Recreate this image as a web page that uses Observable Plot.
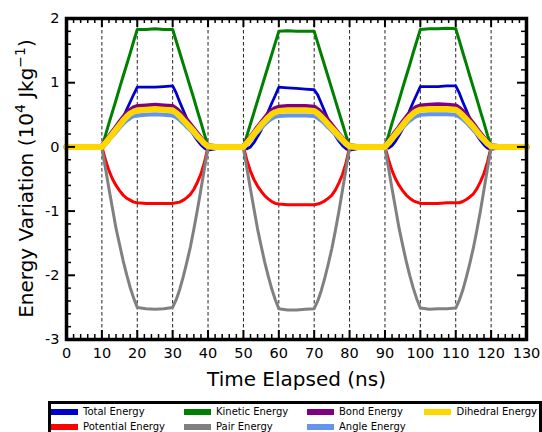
<!DOCTYPE html>
<html>
<head>
<meta charset="utf-8">
<script src="https://cdn.jsdelivr.net/npm/d3@7"></script>
<script src="https://cdn.jsdelivr.net/npm/@observablehq/plot@0.6"></script>
<style>
  body { margin: 0; background: #fff; font-family: "DejaVu Sans", sans-serif; }
  #wrap { position: relative; width: 542px; height: 432px; overflow: hidden; background: #fff; }
  #legend { position: absolute; left: 48px; top: 401px; width: 494px; height: 40px;
            border: 3px solid #000; box-sizing: border-box; background: #fff; }
  .sw { position: absolute; width: 27px; height: 6px; }
  .lab { position: absolute; font-size: 10px; line-height: 10px; white-space: nowrap; color: #000; }
</style>
</head>
<body>
<div id="wrap"></div>
<script>
// Sample times (ns): three load / hold / unload cycles
const timeNs = [0,
  10,11,12,13,14,15,16,17,18,19,20,22.5,25,27.5,30,31,32,33,34,35,36,37,38,39,40,
  42,45,48,
  50,51,52,53,54,55,56,57,58,59,60,62.5,65,67.5,70,71,72,73,74,75,76,77,78,79,80,
  82,85,88,
  90,91,92,93,94,95,96,97,98,99,100,102.5,105,107.5,110,111,112,113,114,115,116,117,118,119,120,
  122,125,130];

// Energy variation (10^4 J/kg) per component, aligned with timeNs
const totalEnergy = [0,
  0,0.05,0.10,0.18,0.26,0.34,0.45,0.58,0.70,0.82,0.93, 0.93,0.93,0.94, 0.95,0.84,0.70,0.57,0.44,0.28,0.18,0.10,0.03,-0.02,-0.05,
  -0.03,0,0,
  0,-0.03,0.00,0.07,0.16,0.26,0.40,0.55,0.68,0.80,0.93, 0.92,0.91,0.90, 0.89,0.81,0.68,0.55,0.42,0.28,0.17,0.09,0.02,-0.03,-0.05,
  -0.03,0,0,
  0,-0.02,0.02,0.09,0.18,0.28,0.42,0.57,0.70,0.82,0.94, 0.94,0.94,0.95, 0.95,0.84,0.70,0.57,0.44,0.29,0.18,0.10,0.03,-0.02,-0.04,
  -0.02,0,0];

const potentialEnergy = [0,
  0,-0.20,-0.37,-0.50,-0.60,-0.68,-0.75,-0.80,-0.83,-0.86,-0.87, -0.88,-0.88,-0.88, -0.88,-0.87,-0.86,-0.83,-0.79,-0.74,-0.66,-0.55,-0.42,-0.24,0,
  0,0,0,
  0,-0.21,-0.38,-0.51,-0.61,-0.69,-0.76,-0.81,-0.85,-0.88,-0.89, -0.90,-0.90,-0.90, -0.90,-0.89,-0.87,-0.84,-0.80,-0.75,-0.67,-0.56,-0.43,-0.25,0,
  0,0,0,
  0,-0.20,-0.37,-0.50,-0.60,-0.68,-0.75,-0.80,-0.84,-0.86,-0.88, -0.88,-0.88,-0.87, -0.87,-0.87,-0.85,-0.82,-0.78,-0.73,-0.65,-0.54,-0.41,-0.23,0,
  0,0,0];

const kineticEnergy = [0,
  0,0.18,0.37,0.55,0.73,0.92,1.10,1.28,1.46,1.65,1.83, 1.83,1.84,1.83, 1.83,1.65,1.47,1.29,1.11,0.93,0.75,0.56,0.38,0.19,0.01,
  0,0,0,
  0,0.18,0.36,0.54,0.72,0.90,1.08,1.26,1.44,1.62,1.80, 1.81,1.80,1.80, 1.80,1.62,1.44,1.26,1.08,0.90,0.72,0.54,0.36,0.18,0.01,
  0,0,0,
  0,0.18,0.37,0.55,0.73,0.92,1.10,1.28,1.47,1.65,1.83, 1.84,1.84,1.85, 1.84,1.66,1.47,1.29,1.10,0.92,0.74,0.55,0.37,0.18,0.01,
  0,0,0];

const pairEnergy = [-0.02,
  -0.02,-0.33,-0.65,-0.96,-1.27,-1.52,-1.77,-1.99,-2.19,-2.36,-2.50, -2.52,-2.53,-2.52, -2.50,-2.38,-2.22,-2.02,-1.80,-1.56,-1.28,-0.98,-0.66,-0.33,-0.02,
  -0.02,-0.02,-0.02,
  -0.02,-0.34,-0.66,-0.97,-1.28,-1.54,-1.79,-2.01,-2.21,-2.38,-2.52, -2.54,-2.54,-2.53, -2.52,-2.40,-2.24,-2.04,-1.82,-1.58,-1.30,-1.00,-0.67,-0.34,-0.02,
  -0.02,-0.02,-0.02,
  -0.02,-0.33,-0.65,-0.96,-1.27,-1.53,-1.78,-2.00,-2.20,-2.37,-2.51, -2.53,-2.52,-2.52, -2.51,-2.39,-2.23,-2.03,-1.81,-1.57,-1.29,-0.99,-0.66,-0.33,-0.02,
  -0.02,-0.02,-0.02];

const bondEnergy = [0,
  0,0.07,0.14,0.22,0.29,0.37,0.44,0.51,0.56,0.60,0.62, 0.63,0.64,0.63, 0.62,0.58,0.53,0.47,0.40,0.33,0.26,0.19,0.12,0.06,0.01,
  0,0,0,
  0,0.07,0.14,0.21,0.29,0.36,0.43,0.50,0.55,0.59,0.61, 0.62,0.62,0.62, 0.61,0.57,0.52,0.46,0.39,0.32,0.25,0.18,0.12,0.06,0.01,
  0,0,0,
  0,0.07,0.14,0.22,0.29,0.37,0.44,0.51,0.57,0.61,0.63, 0.64,0.65,0.64, 0.63,0.59,0.54,0.48,0.41,0.34,0.26,0.19,0.12,0.06,0.01,
  0,0,0];

const angleEnergy = [-0.01,
  -0.01,0.05,0.11,0.17,0.23,0.30,0.36,0.41,0.45,0.48,0.49, 0.50,0.51,0.50, 0.49,0.46,0.42,0.37,0.31,0.26,0.20,0.14,0.09,0.04,0.00,
  -0.01,-0.01,-0.01,
  -0.01,0.05,0.11,0.17,0.23,0.29,0.35,0.40,0.44,0.47,0.48, 0.49,0.49,0.49, 0.48,0.45,0.41,0.36,0.30,0.25,0.19,0.13,0.08,0.03,-0.01,
  -0.01,-0.01,-0.01,
  -0.01,0.05,0.11,0.17,0.23,0.30,0.36,0.41,0.45,0.48,0.50, 0.51,0.51,0.51, 0.50,0.47,0.43,0.38,0.32,0.26,0.20,0.14,0.09,0.04,0.00,
  -0.01,-0.01,-0.01];

const dihedralEnergy = [0,
  0,0.06,0.13,0.20,0.27,0.34,0.41,0.47,0.52,0.55,0.57, 0.58,0.59,0.58, 0.57,0.53,0.48,0.42,0.36,0.30,0.24,0.17,0.11,0.05,0.01,
  0,0,0,
  0,0.06,0.13,0.20,0.27,0.34,0.40,0.46,0.51,0.54,0.56, 0.57,0.57,0.57, 0.56,0.52,0.47,0.41,0.35,0.29,0.23,0.17,0.11,0.05,0.01,
  0,0,0,
  0,0.06,0.13,0.20,0.27,0.34,0.41,0.47,0.52,0.56,0.58, 0.59,0.59,0.59, 0.58,0.54,0.49,0.43,0.37,0.31,0.24,0.17,0.11,0.05,0.01,
  0,0,0];

const seriesNames = ["Total Energy", "Potential Energy", "Kinetic Energy", "Pair Energy",
                     "Bond Energy", "Angle Energy", "Dihedral Energy"];
const seriesColors = ["#0000cd", "#ff0000", "#008000", "#808080", "#800080", "#6495ed", "#ffd700"];
const seriesValues = [totalEnergy, potentialEnergy, kineticEnergy, pairEnergy,
                      bondEnergy, angleEnergy, dihedralEnergy];

// Axis ticks and the stage boundaries marked with dashed lines
const xMajor = [0,10,20,30,40,50,60,70,80,90,100,110,120,130];
const xMinor = d3.range(0, 131, 2).filter(t => t % 10 !== 0);
const yMajor = [-3,-2,-1,0,1,2];
const yMinor = d3.range(-30, 21, 2).filter(v => v % 10 !== 0).map(v => v / 10);
const stageBounds = [10,20,30,40,50,60,70,80,90,100,110,120];

// Line widths per series (noisy traces read as thick bands)
const widths = [2.8, 3, 3, 3, 6, 4, 6];

const W = 542, H = 395;
const mL = 66, mR = 16, mT = 18, mB = 56;
const plotW = W - mL - mR, plotH = H - mT - mB;

const rows = seriesNames.map((name, s) =>
  timeNs.map((t, i) => ({t, v: seriesValues[s][i], name})));

const lineMarks = rows.map((data, s) =>
  Plot.line(data, {x: "t", y: "v", stroke: seriesColors[s], strokeWidth: widths[s],
                   strokeLinejoin: "round", strokeLinecap: "round"}));

const majLen = 9, minLen = 5;
const fmt = d => String(d);

const svg = Plot.plot({
  width: W, height: H,
  marginLeft: mL, marginRight: mR, marginTop: mT, marginBottom: mB,
  x: {domain: [0, 130]},
  y: {domain: [-3, 2]},
  style: {fontFamily: "DejaVu Sans", fontSize: "14.5px", color: "#000", background: "#fff"},
  marks: [
    Plot.ruleX(stageBounds, {x: d => d, stroke: "#222", strokeWidth: 1, strokeDasharray: "3.5,2.5"}),
    ...lineMarks,
    // inward ticks on all four sides
    Plot.tickX(xMajor, {x: d => d, insetTop: plotH - majLen, stroke: "#000", strokeWidth: 2}),
    Plot.tickX(xMajor, {x: d => d, insetBottom: plotH - majLen, stroke: "#000", strokeWidth: 2}),
    Plot.tickX(xMinor, {x: d => d, insetTop: plotH - minLen, stroke: "#000", strokeWidth: 1.5}),
    Plot.tickX(xMinor, {x: d => d, insetBottom: plotH - minLen, stroke: "#000", strokeWidth: 1.5}),
    Plot.tickY(yMajor, {y: d => d, insetRight: plotW - majLen, stroke: "#000", strokeWidth: 2}),
    Plot.tickY(yMajor, {y: d => d, insetLeft: plotW - majLen, stroke: "#000", strokeWidth: 2}),
    Plot.tickY(yMinor, {y: d => d, insetRight: plotW - minLen, stroke: "#000", strokeWidth: 1.5}),
    Plot.tickY(yMinor, {y: d => d, insetLeft: plotW - minLen, stroke: "#000", strokeWidth: 1.5}),
    Plot.frame({stroke: "#000", strokeWidth: 3.5}),
    Plot.axisX({ticks: xMajor, tickSize: 0, tickPadding: 8, label: null, tickFormat: fmt, fontSize: 14.5}),
    Plot.axisY({ticks: yMajor, tickSize: 0, tickPadding: 7, label: null, tickFormat: fmt, fontSize: 14.5}),
    Plot.text(["Time Elapsed (ns)"], {text: d => d, frameAnchor: "bottom", dy: 46,
                                      lineAnchor: "bottom", fontSize: 20, fill: "#000"})
  ]
});

// Rotated y-axis title with superscripts
const yt = d3.select(svg).append("text")
  .attr("transform", `translate(33,${mT + plotH / 2}) rotate(-90)`)
  .attr("text-anchor", "middle")
  .attr("font-family", "DejaVu Sans")
  .attr("font-size", 20)
  .attr("fill", "#000");
yt.append("tspan").text("Energy Variation (10");
yt.append("tspan").attr("font-size", 14).attr("dy", -8).text("4");
yt.append("tspan").attr("dy", 8).text(" Jkg");
yt.append("tspan").attr("font-size", 14).attr("dy", -8).text("\u22121");
yt.append("tspan").attr("dy", 8).text(")");

const wrap = document.getElementById("wrap");
wrap.appendChild(svg);

// Legend: four columns, filled column by column
const legend = document.createElement("div");
legend.id = "legend";
const colSwatch = [0, 133, 256, 373];
const colLabel = [32, 165, 288, 405.5];
const rowMid = [7.5, 22.5];
seriesNames.forEach((name, i) => {
  const c = Math.floor(i / 2), r = i % 2;
  const sw = document.createElement("div");
  sw.className = "sw";
  sw.style.left = colSwatch[c] + "px";
  sw.style.top = (rowMid[r] - 3) + "px";
  sw.style.background = seriesColors[i];
  legend.appendChild(sw);
  const lb = document.createElement("div");
  lb.className = "lab";
  lb.style.left = colLabel[c] + "px";
  lb.style.top = (rowMid[r] - 5) + "px";
  lb.textContent = name;
  legend.appendChild(lb);
});
wrap.appendChild(legend);
</script>
</body>
</html>
